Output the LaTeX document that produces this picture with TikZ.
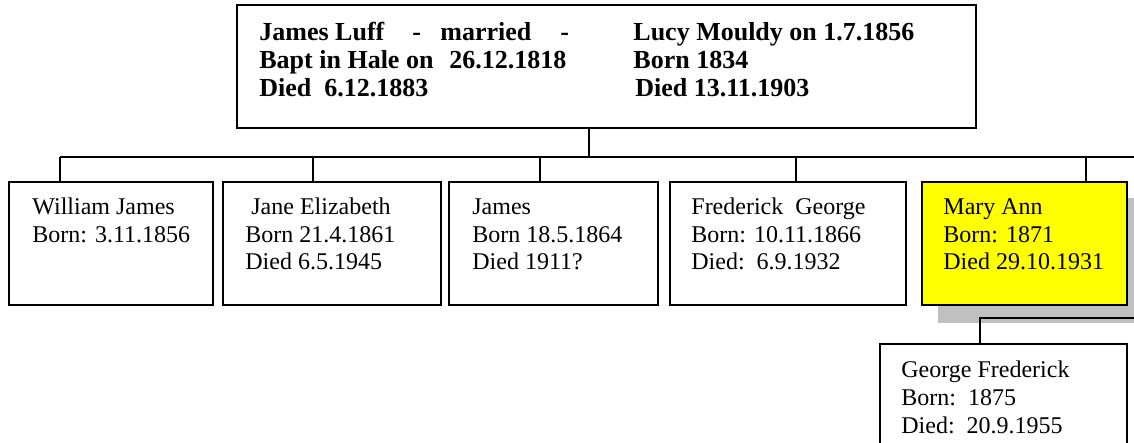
\documentclass[tikz,border=0pt]{standalone}
\usepackage{fontspec}
\setmainfont{Liberation Serif}
\definecolor{shadowgray}{RGB}{192,192,192}
\definecolor{hiyellow}{RGB}{255,255,0}
\newcommand{\famlines}[1]{\begin{tabular}[t]{@{}l@{}}#1\end{tabular}}
\begin{document}
\begin{tikzpicture}[x=0.5pt,y=-0.5pt,
  box/.style={draw=black, line width=1pt, fill=white, inner sep=0pt, outer sep=0pt, anchor=north west},
  shadowbox/.style={fill=shadowgray, inner sep=0pt, outer sep=0pt, anchor=north west},
  conn/.style={draw=black, line width=0.8pt},
  txt/.style={anchor=base west, inner sep=0pt, font=\fontsize{12}{14}\selectfont},
  btxt/.style={anchor=base west, inner sep=0pt, font=\fontsize{13}{14}\selectfont\bfseries},
]
\useasboundingbox (0,0) rectangle (1134,443);
\clip (0,0) rectangle (1134,443);

% shadow of highlighted box
\node[shadowbox, minimum width=102.5pt, minimum height=62.5pt] (sh) at (938,198) {};

% boxes
\node[box, minimum width=369.5pt, minimum height=61.5pt] (top) at (237,5) {};
\node[box, minimum width=102pt, minimum height=61.5pt] (b1) at (9,182) {};
\node[box, minimum width=109pt, minimum height=61.5pt] (b2) at (223,182) {};
\node[box, minimum width=104.5pt, minimum height=61.5pt] (b3) at (449,182) {};
\node[box, minimum width=118pt, minimum height=61.5pt] (b4) at (670,182) {};
\node[box, fill=hiyellow, minimum width=102.5pt, minimum height=61.5pt] (b5) at (922,182) {};
\node[box, minimum width=123.5pt, minimum height=60pt] (g) at (880,344) {};

% connectors
\coordinate (barL) at (60,157);
\coordinate (barR) at (1134,157);
\coordinate (j0) at (589,157);
\coordinate (j1) at (60,157);
\coordinate (j2) at (313,157);
\coordinate (j3) at (540,157);
\coordinate (j4) at (796,157);
\coordinate (j5) at (1086,157);
\draw[conn] (barL) -- (barR);
\draw[conn] (j0) -- (j0 |- top.south);
\draw[conn] (j1) -- (j1 |- b1.north);
\draw[conn] (j2) -- (j2 |- b2.north);
\draw[conn] (j3) -- (j3 |- b3.north);
\draw[conn] (j4) -- (j4 |- b4.north);
\draw[conn] (j5) -- (j5 |- b5.north);
\coordinate (k0) at (1134,318);
\coordinate (k1) at (980,318);
\draw[conn] (k0) -- (k1) -- (k1 |- g.north);

% texts
\node[btxt] (tl) at (259,41) {\famlines{James Luff\hspace{14pt}-\hspace{9.7pt}married\hspace{14.5pt}-\\Bapt in Hale on\hspace{8pt}26.12.1818\\Died\ \ 6.12.1883}};
\node[btxt] (tr) at (633,41) {\famlines{Lucy Mouldy on 1.7.1856\\Born 1834\\\hspace{1pt}Died 13.11.1903}};
\node[txt] (t1) at (32,214) {\famlines{William James\\Born: 3.11.1856}};
\node[txt] (t2) at (245,214) {\famlines{\hspace{3pt}Jane Elizabeth\\Born 21.4.1861\\Died 6.5.1945}};
\node[txt] (t3) at (472,214) {\famlines{James\\Born 18.5.1864\\Died 1911?}};
\node[txt] (t4) at (691,214) {\famlines{Frederick\ \ George\\Born: 10.11.1866\\Died:\ \ 6.9.1932}};
\node[txt] (t5) at (943,214) {\famlines{Mary Ann\\Born: 1871\\Died 29.10.1931}};
\node[txt] (tg) at (901,377) {\famlines{George Frederick\\Born:\ \ 1875\\Died:\ \ 20.9.1955}};
\end{tikzpicture}
\end{document}
